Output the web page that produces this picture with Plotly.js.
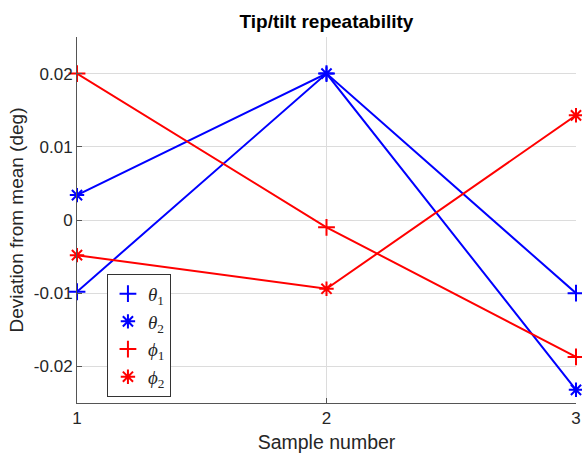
<!DOCTYPE html>
<html>
<head>
<meta charset="utf-8">
<script src="https://cdn.plot.ly/plotly-3.0.1.min.js"></script>
<style>html,body{margin:0;padding:0;background:#fff;}#chart{width:582px;height:455px;}</style>
</head>
<body>
<div id="chart"></div>
<script>
const samples = [1, 2, 3];
const theta1 = [-0.0098, 0.0200, -0.0100];
const theta2 = [0.0034, 0.0200, -0.0232];
const phi1 = [0.0200, -0.0010, -0.0187];
const phi2 = [-0.0048, -0.0094, 0.0143];
const seriesNames = ['<i>θ</i><sub>1</sub>', '<i>θ</i><sub>2</sub>', '<i>ϕ</i><sub>1</sub>', '<i>ϕ</i><sub>2</sub>'];
const yTickVals = [-0.02, -0.01, 0, 0.01, 0.02];
const yTickText = ['-0.02', '-0.01', '0', '0.01', '0.02'];
const xTickVals = [1, 2, 3];

const series = [
  {y: theta1, color: '#0000ff', symbol: 'cross-thin-open'},
  {y: theta2, color: '#0000ff', symbol: 'asterisk-open'},
  {y: phi1, color: '#ff0000', symbol: 'cross-thin-open'},
  {y: phi2, color: '#ff0000', symbol: 'asterisk-open'}
];
const traces = [];
series.forEach((s, i) => {
  traces.push({x: samples, y: s.y, mode: 'lines', line: {color: s.color, width: 2}, showlegend: false, hoverinfo: 'skip'});
});
series.forEach((s, i) => {
  traces.push({x: samples, y: s.y, mode: 'markers', name: seriesNames[i],
    marker: {symbol: s.symbol, size: 12, color: s.color, line: {color: s.color, width: 2}}, cliponaxis: false});
});

const layout = {
  width: 582, height: 455,
  margin: {l: 77, r: 6, t: 37, b: 52},
  paper_bgcolor: '#ffffff', plot_bgcolor: '#ffffff',
  font: {family: 'Liberation Sans, Arial, sans-serif', color: '#262626', size: 17},
  title: {text: '<b>Tip/tilt repeatability</b>', x: 0.5, xanchor: 'center', xref: 'paper', y: 0.952, yanchor: 'middle', font: {size: 19, color: '#000000'}},
  xaxis: {range: [1, 3], tickvals: xTickVals, ticktext: xTickVals.map(String), showgrid: true, gridcolor: '#dcdcdc', gridwidth: 1,
    zeroline: false, showline: true, linecolor: '#555555', linewidth: 1, ticks: 'inside', ticklen: 5, tickcolor: '#555555',
    title: {text: 'Sample number', font: {size: 19.5, color: '#262626'}, standoff: 7}, tickfont: {size: 17, color: '#262626'}},
  yaxis: {range: [-0.025, 0.025], tickvals: yTickVals, ticktext: yTickText, showgrid: true, gridcolor: '#dcdcdc', gridwidth: 1,
    zeroline: false, showline: true, linecolor: '#555555', linewidth: 1, ticks: 'inside', ticklen: 5, tickcolor: '#555555',
    title: {text: 'Deviation from mean (deg)', font: {size: 19, color: '#262626'}, standoff: 5}, tickfont: {size: 17, color: '#262626'}},
  legend: {x: 0.06, y: 0.017, xanchor: 'left', yanchor: 'bottom', bgcolor: '#ffffff', bordercolor: '#333333', borderwidth: 1,
    font: {size: 19, color: '#262626', family: 'Liberation Serif, serif'}, itemwidth: 30, tracegroupgap: 0}
};
Plotly.newPlot('chart', traces, layout, {displayModeBar: false, staticPlot: true});
</script>
</body>
</html>
